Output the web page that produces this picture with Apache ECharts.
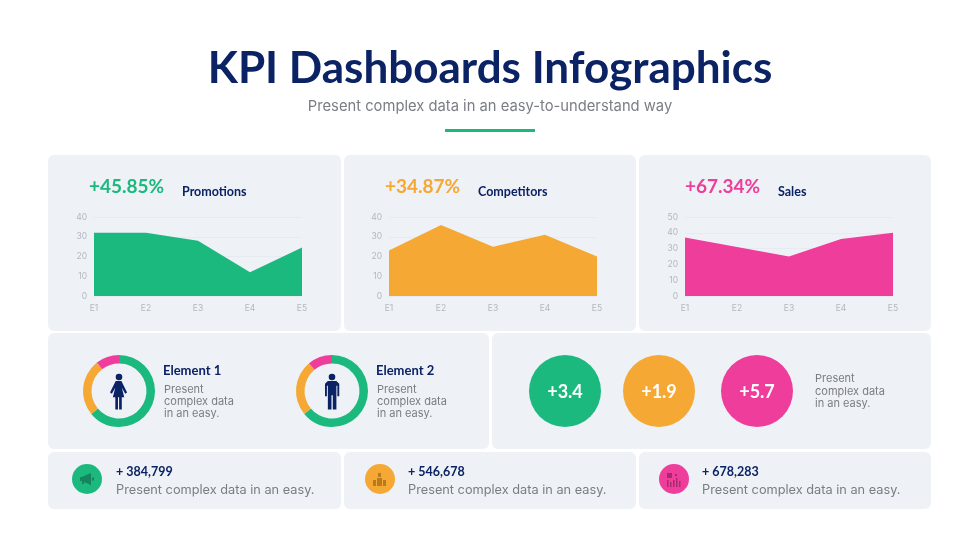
<!DOCTYPE html>
<html lang="en">
<head>
    <meta charset="UTF-8">
    <title>KPI Dashboards Infographics</title>
    <style>html,body{margin:0;background:#fff}</style>
</head>
<body>
<div id="main" style="width:980px;height:551px;"></div>
<script src="https://cdn.jsdelivr.net/npm/echarts@6/dist/echarts.min.js"></script>
<script>
const categories = ['E1', 'E2', 'E3', 'E4', 'E5']
const promotions = [32, 32, 28, 12, 24.5]
const competitors = [23, 36, 25, 31, 20]
const sales = [37, 31, 25, 36, 40]
const axisMax = [40, 40, 50]
const chartNames = ['Promotions', 'Competitors', 'Sales']
const chartPercents = ['+45.85%', '+34.87%', '+67.34%']
const donutNames = ['Element 1', 'Element 2']
const donut1 = [64, 25.5, 10.5]
const donut2 = [64, 25, 11]
const bubbleValues = ['+3.4', '+1.9', '+5.7']
const footValues = ['+ 384,799', '+ 546,678', '+ 678,283']

const GREEN = '#1cb97f', ORANGE = '#f5a833', PINK = '#ee3d9b'
const NAVY = '#0b2265', GRAY = '#7a7d83', PANEL = '#eef1f6'
const FONT = 'Lato'
const BODY = 'Inter'
const colors = [GREEN, ORANGE, PINK]

let chartDom = document.getElementById('main')
let myChart = echarts.init(chartDom)

let grids = []
let xAes = []
let yAes = []
let series = []
let graphics = []

function panel(x, y, w, h) {
    graphics.push({
        type: 'rect', z: -10,
        shape: {x: x, y: y, width: w, height: h, r: 6},
        style: {fill: PANEL}
    })
}

function text(x, y, str, size, color, weight, align, family) {
    graphics.push({
        type: 'text', z: 20, x: x, y: y,
        style: {
            text: str, fontFamily: family || FONT, fontSize: size, fill: color,
            fontWeight: weight || 'normal', textAlign: align || 'left', textVerticalAlign: 'middle'
        }
    })
}

// icon parts are polygons in their own small box, s scales them to the page
function icon(parts, x, y, s, color) {
    parts.forEach(p => {
        graphics.push({
            type: 'polygon', z: 20,
            shape: {points: p.map(q => [x + q[0] * s, y + q[1] * s])},
            style: {fill: color}
        })
    })
}

function box(x, y, w, h) {
    return [[x, y], [x + w, y], [x + w, y + h], [x, y + h]]
}

function circle(cx, cy, r, color) {
    graphics.push({type: 'circle', z: 20, shape: {cx: cx, cy: cy, r: r}, style: {fill: color}})
}

// panels
panel(48, 155, 293, 176)
panel(344, 155, 292, 176)
panel(639, 155, 292, 176)
panel(48, 333, 441, 116)
panel(492, 333, 439, 116)
panel(48, 452, 293, 57)
panel(344, 452, 292, 57)
panel(639, 452, 292, 57)

// header
text(490, 69, 'KPI Dashboards Infographics', 44, NAVY, 'bold', 'center')
text(490, 107, 'Present complex data in an easy-to-understand way', 14.75, GRAY, 'normal', 'center', BODY)
graphics.push({type: 'rect', z: 20, shape: {x: 445, y: 129, width: 90, height: 3}, style: {fill: GREEN}})

// area charts
const chartData = [promotions, competitors, sales]
const gridLeft = [94, 389, 685]
const percentX = [89, 385, 685]
const nameX = [182, 478, 778]
chartData.forEach((it, index) => {
    grids.push({left: gridLeft[index], top: 217, width: 208, height: 79})
    xAes.push({
        type: 'category', gridIndex: index, data: categories, boundaryGap: false,
        axisLine: {show: false}, axisTick: {show: false},
        axisLabel: {color: '#b4b8bf', fontSize: 8.5, fontFamily: BODY, margin: 8}
    })
    yAes.push({
        type: 'value', gridIndex: index, min: 0, max: axisMax[index], interval: 10,
        axisLine: {show: false}, axisTick: {show: false},
        axisLabel: {color: '#b4b8bf', fontSize: 8.5, fontFamily: BODY, margin: 7},
        splitLine: {lineStyle: {color: '#e7eaf0', width: 1}}
    })
    series.push({
        type: 'line', xAxisIndex: index, yAxisIndex: index, data: it,
        symbol: 'none', silent: true, animation: false,
        lineStyle: {width: 0}, areaStyle: {color: colors[index], opacity: 1}
    })
    text(percentX[index], 187, chartPercents[index], 19, colors[index], 'bold')
    text(nameX[index], 192, chartNames[index], 12.5, NAVY, 'bold')
})

// donuts
const donutData = [donut1, donut2]
const donutX = [119, 332]
const donutTextX = [164, 377]
donutData.forEach((it, index) => {
    series.push({
        type: 'pie', center: [donutX[index], 391], radius: [27.5, 36], startAngle: 90,
        clockwise: true, silent: true, animation: false,
        label: {show: false}, labelLine: {show: false},
        data: it.map((v, i) => ({value: v, itemStyle: {color: colors[i]}}))
    })
    text(donutTextX[index] - 1, 371, donutNames[index], 13, NAVY, 'bold')
    text(donutTextX[index], 390, 'Present', 11, GRAY, 'normal', 'left', BODY)
    text(donutTextX[index], 402, 'complex data', 11, GRAY, 'normal', 'left', BODY)
    text(donutTextX[index], 414, 'in an easy.', 11, GRAY, 'normal', 'left', BODY)
})

// person icons
const woman = [[[6, 0], [12, 0], [18, 12], [16, 13.5], [12.5, 7], [15, 17], [12.4, 17], [12.4, 30], [9.6, 30], [9.6, 17], [8.4, 17], [8.4, 30], [5.6, 30], [5.6, 17], [3, 17], [5.5, 7], [2, 13.5], [0, 12]]]
const man = [[[3, 0], [12, 0], [15, 3], [15, 16], [13, 16], [13, 5], [12, 5], [12, 30], [8.2, 30], [8.2, 15], [6.8, 15], [6.8, 30], [3, 30], [3, 5], [2, 5], [2, 16], [0, 16], [0, 3]]]
circle(119, 377, 3.3, NAVY)
icon(woman, 110, 381, 0.95, NAVY)
circle(332, 377, 3.3, NAVY)
icon(man, 325, 381, 0.95, NAVY)

// big circles
const bubbleX = [565, 659, 757]
bubbleValues.forEach((it, index) => {
    series.push({
        type: 'pie', center: [bubbleX[index], 391], radius: [0, 36], silent: true, animation: false,
        labelLine: {show: false},
        label: {position: 'center', formatter: it, color: '#fff', fontSize: 18, fontWeight: 'bold', fontFamily: FONT, offset: [0, 1.5]},
        data: [{value: 1, itemStyle: {color: colors[index]}}]
    })
})
text(815, 379, 'Present', 11, GRAY, 'normal', 'left', BODY)
text(815, 392, 'complex data', 11, GRAY, 'normal', 'left', BODY)
text(815, 404, 'in an easy.', 11, GRAY, 'normal', 'left', BODY)

// bottom row
const footCircle = [87, 380, 674]
const footText = [116, 408, 702]
const footIcons = [
    [[[0, 4], [2, 4], [4, 3], [11, 0], [11, 12], [4, 9], [4, 11], [2, 11], [2, 8], [0, 8]], box(12, 4.5, 2, 3)],
    [box(5, 0, 3, 4), box(4, 5, 5, 8), box(0, 7, 3, 6), box(10, 7, 3, 6)],
    [box(0, 0, 5, 5), box(8, 1, 2, 2), box(0, 7, 1.5, 7), box(3, 9, 1.5, 5), box(6, 7, 1.5, 7), box(9, 5, 1.5, 9), box(12, 8, 1.5, 6)]
]
const iconDark = ['#14855c', '#b87a1e', '#a82a6e']
footValues.forEach((it, index) => {
    circle(footCircle[index], 479, 15, colors[index])
    icon(footIcons[index], footCircle[index] - 7, 473, 1, iconDark[index])
    text(footText[index], 472, it, 12.5, NAVY, 'bold')
    text(footText[index], 490.5, 'Present complex data in an easy.', 12.75, GRAY, 'normal', 'left', BODY)
})

let option = {
    animation: false,
    backgroundColor: '#fff',
    grid: grids,
    xAxis: xAes,
    yAxis: yAes,
    series: series,
    graphic: {elements: graphics}
}
option && myChart.setOption(option)
</script>
</body>
</html>
